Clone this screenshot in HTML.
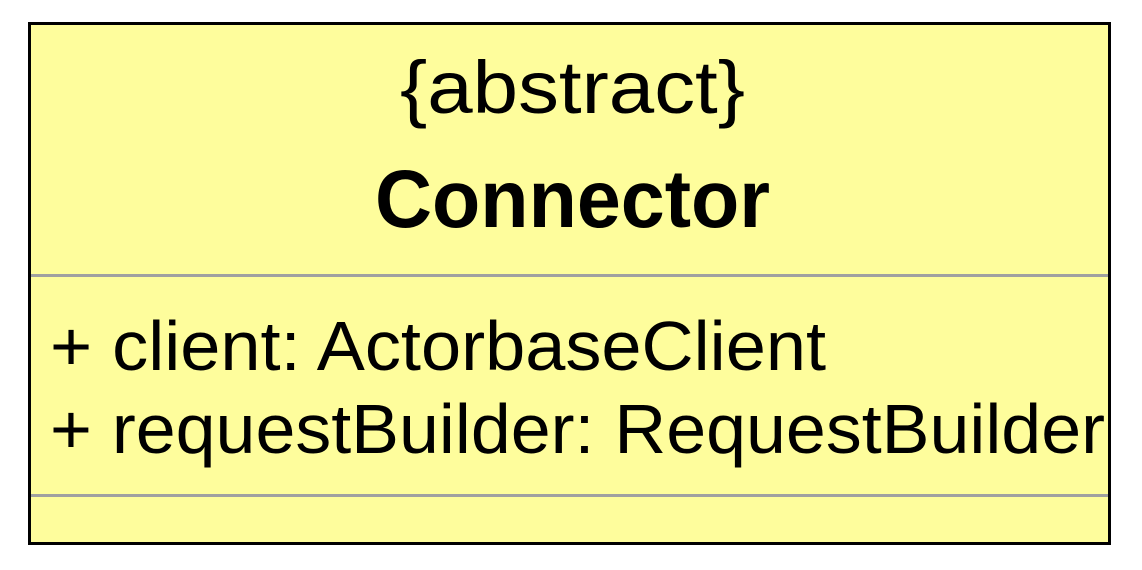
<!DOCTYPE html>
<html><head><meta charset="utf-8"><style>html,body{margin:0;padding:0;background:#fff;}svg{display:block;}</style></head>
<body>
<svg width="1142" height="570" viewBox="0 0 1142 570" xmlns="http://www.w3.org/2000/svg">
<rect x="29.5" y="23.5" width="1080" height="520" fill="#fefd9c" stroke="#000" stroke-width="3"/>
<line x1="31" y1="275.5" x2="1108" y2="275.5" stroke="#a0a0a0" stroke-width="3"/>
<line x1="31" y1="495.5" x2="1108" y2="495.5" stroke="#a0a0a0" stroke-width="3"/>
<g font-family="Liberation Sans, Arial, sans-serif" fill="#000">
<text x="400" y="113" font-size="74" textLength="345" lengthAdjust="spacingAndGlyphs">{abstract}</text>
<text x="375" y="227" font-size="82" font-weight="bold" textLength="395" lengthAdjust="spacingAndGlyphs">Connector</text>
<text x="50" y="370" font-size="70" textLength="776" lengthAdjust="spacingAndGlyphs">+ client: ActorbaseClient</text>
<text x="50" y="453" font-size="70" textLength="1055" lengthAdjust="spacingAndGlyphs">+ requestBuilder: RequestBuilder</text>
</g>
</svg>
</body></html>
